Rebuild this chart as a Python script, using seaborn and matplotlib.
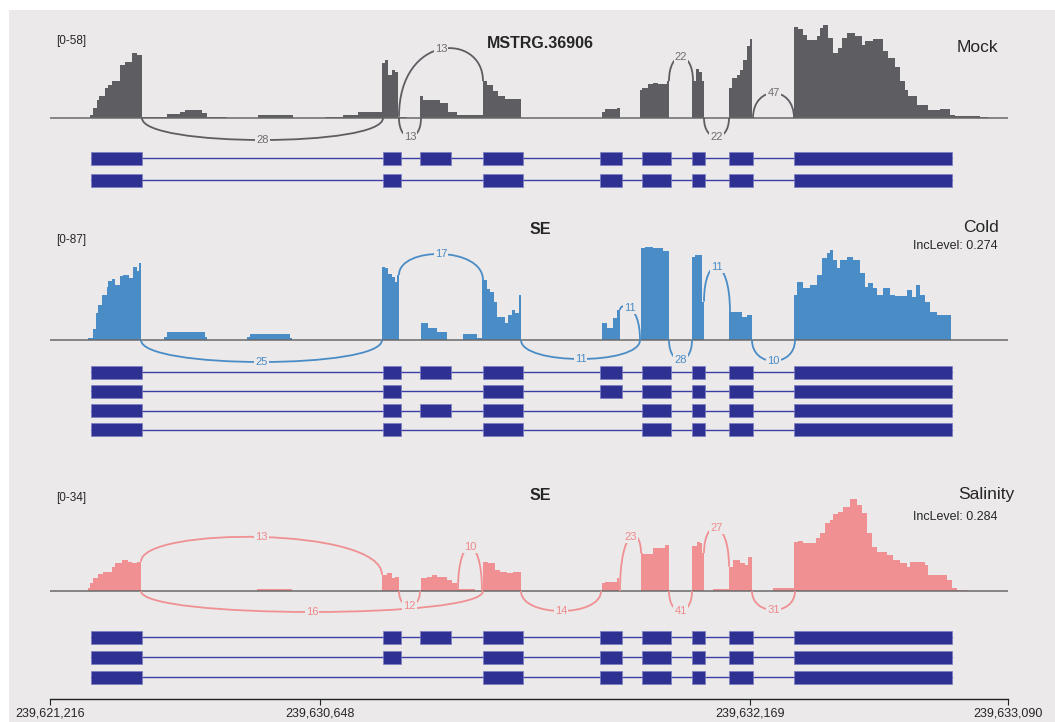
import numpy as np
import matplotlib
matplotlib.use("Agg")
import matplotlib.pyplot as plt
from matplotlib.path import Path
from matplotlib.patches import PathPatch, Rectangle
import seaborn as sns

sns.set_theme(style="white")
plt.rcParams["font.family"] = ["Liberation Sans", "DejaVu Sans"]

W, H = 1055, 722
BG = "#ebe9ea"
EXON = "#2e3192"

# --- gene model (x = compressed genomic coordinate, introns shrunk) ---
exon_start = [91, 383, 420, 483, 600, 642, 692, 729, 794]
exon_end = [142, 401, 451, 523, 622, 671, 705, 753, 952]

mock_tx = [[0, 1, 2, 3, 4, 5, 6, 7, 8], [0, 1, 3, 4, 5, 6, 7, 8]]
cold_tx = [[0, 1, 2, 3, 4, 5, 6, 7, 8], [0, 1, 3, 4, 5, 6, 7, 8],
           [0, 1, 2, 3, 5, 6, 7, 8], [0, 1, 3, 5, 6, 7, 8]]
sal_tx = [[0, 1, 2, 3, 4, 5, 6, 7, 8], [0, 1, 3, 4, 5, 6, 7, 8],
          [0, 3, 4, 5, 6, 7, 8]]

# --- read coverage: start position, then (bin end, depth) ---
mock_start = 90
mock_cov = [(93.3, 2), (96.7, 6), (99.3, 11.4), (105, 14), (108.3, 18.7), (111.7, 20.8),
            (120, 23.3), (125, 33), (131.7, 34.7), (136.7, 40.6), (141.7, 39),
            (166.7, 0.8), (180, 2.7), (185, 4), (201.7, 5.2), (206.7, 3), (226.7, 0.8),
            (258.3, 0), (293.3, 1.7), (325, 0), (343.3, 0.8), (358.3, 1.7), (381.7, 3.7),
            (385, 34), (388.3, 36), (391.7, 27), (395, 30), (398.3, 29), (406.7, 0.8), (420, 0),
            (423.3, 13.5), (440, 11.4), (448.3, 9.4), (456.7, 4), (482.7, 1.7),
            (486.7, 23), (493.3, 20.8), (498.3, 16.6), (505, 13.5), (521, 11.9), (601.7, 0),
            (605, 4), (616.7, 5.5), (620, 6), (640, 0),
            (641.7, 17.7), (648.3, 18.7), (653.3, 21.4), (658.3, 22), (666.7, 21.4), (669.3, 23),
            (692.3, 0), (695.7, 23), (699.3, 30.6), (701.7, 29), (704, 23), (729, 0),
            (731.7, 18.7), (736.7, 25), (740, 27), (743.3, 30), (746.7, 36), (750, 44.7),
            (752.3, 49), (794.3, 0),
            (798.3, 57), (803.3, 55.5), (806.7, 52), (816.7, 48.5), (820, 51), (823.3, 56),
            (828.3, 58), (833.3, 50), (838.3, 40.5), (841.7, 43.7), (846.7, 50), (855, 53),
            (861.7, 51), (865, 45.8), (873.3, 47.8), (883.3, 49), (888.3, 41.6), (895, 37.4),
            (900, 32), (905, 23), (908.3, 17.7), (916.7, 13.5), (928.3, 8.3), (940, 4.8),
            (950, 5.6), (955, 2), (980, 1.5), (988.3, 0.8)]

cold_start = 88.3
cold_cov = [(93.3, 2), (95.7, 10), (98.3, 25), (101.7, 33), (106.7, 42), (108.3, 50),
            (111.7, 55), (115, 57), (120, 51), (123.3, 60), (129.3, 61), (132.7, 58),
            (136.7, 68), (139, 65), (141, 72),
            (164, 0), (166.7, 3), (205, 7.8), (206.7, 3), (246.7, 0), (250, 3), (290, 5.3),
            (291.7, 2), (381.7, 0),
            (385, 68.6), (388.3, 67), (391.7, 62), (395, 59), (397.3, 54.6), (399, 60.8),
            (420.7, 0), (428.3, 15.6), (436.7, 10.9), (446.7, 7.8), (463.3, 0), (476.7, 5.3),
            (482.3, 2.2),
            (486.7, 56), (490, 48), (494, 45), (497.3, 36), (505, 21.8), (508.3, 15.6),
            (511.7, 23.4), (515, 28), (519.3, 25), (520.7, 42), (601.7, 0),
            (606.7, 15.6), (613.3, 11.5), (617.3, 20.3), (620, 28), (641, 0),
            (645, 85.7), (653.3, 87), (663.3, 85.7), (669.3, 83.2), (692.3, 0),
            (695, 78), (701.7, 79.5), (704, 35.9), (729.3, 0),
            (733.3, 25.9), (741.7, 26.5), (746.7, 21.8), (752, 23.4), (794.3, 0),
            (796.7, 42), (803.3, 54.6), (810, 49), (816.7, 51.4), (821.7, 60.8), (826.7, 76.4),
            (830, 81), (833.3, 84.2), (836.7, 74.8), (840, 67), (846.7, 74.8), (853.3, 78),
            (860, 74.8), (865, 62.4), (868.3, 49.9), (873.3, 53), (876.7, 48.3), (883.3, 42),
            (890, 48.3), (895, 42), (906.7, 41.5), (911.7, 46.8), (916, 40.5), (920, 51.4),
            (925, 42), (930, 35.9), (936.7, 25.9), (951, 23.4)]

sal_start = 87.7
sal_cov = [(90, 1), (93.3, 2.8), (98.3, 4.6), (103.3, 6.1), (111.7, 7.1), (115, 8.9),
           (121.7, 10.1), (128.3, 11.3), (131.7, 10.7), (136.7, 10.1), (141, 10.7),
           (256.7, 0), (292.3, 0.6), (382.3, 0),
           (386.7, 5.9), (391.7, 6.5), (395, 4.6), (399, 5.2), (420.7, 0),
           (426.7, 4.9), (431.7, 5.2), (436.7, 5.9), (441.7, 5), (446.7, 5.2), (451.7, 4),
           (457.3, 3), (475, 0.6), (482.7, 0),
           (488.3, 10.7), (495, 10.4), (500, 7.7), (506.7, 7.1), (513.3, 6.7), (521, 7),
           (601.7, 0), (605, 2.8), (616.7, 3.4), (619.3, 4.6), (640.7, 0),
           (643.3, 13.8), (653.3, 13.5), (660, 15.6), (665, 15.8), (669.3, 16.8), (692.3, 0),
           (696.7, 16.5), (700, 18), (702.3, 17.4), (704, 13.8), (713.3, 0), (729.3, 0.6),
           (733.3, 8.9), (740, 11.3), (745, 10.1), (748.3, 9.5), (752, 12.6), (773.3, 0),
           (794.3, 1),
           (798.3, 18), (803.3, 18.3), (816, 17.4), (820, 19.3), (825, 21.1), (830, 24.7),
           (833.3, 26), (838.3, 28), (843.3, 29), (850, 30.8), (856.7, 33.6), (861.7, 31.4),
           (866.7, 28.4), (871.7, 21.1), (876.7, 16.2), (886.7, 14.4), (893.3, 13.2),
           (900, 11.3), (906.7, 10.1), (910, 8.7), (925, 10.7), (928.3, 9.5), (946.7, 5.9),
           (951.7, 4), (956.7, 1), (966.7, 0.2)]

# --- splice junctions: (donor, acceptor, read count) ---
mock_junc = [(142, 383, 28), (399, 483, 13), (399, 421, 13), (669, 693, 22),
             (704, 729, 22), (753, 794, 47)]
cold_junc = [(141, 382, 25), (399, 483, 17), (521, 640, 11), (620, 640, 11),
             (669, 692, 28), (704, 730, 11), (752, 795, 10)]
sal_junc = [(141, 382, 13), (141, 483, 16), (399, 420, 12), (458, 482, 10),
            (521, 601, 14), (620, 641, 23), (669, 692, 41), (704, 729, 27), (752, 795, 31)]

# arc heights in pixels above (+) / below (-) the baseline (layout only)
mock_arc_h = [-22, 69, -19, 61, -19, 25]
cold_arc_h = [-22, 86, -19, 32, -20, 73, -21]
sal_arc_h = [54, -21, -15, 44, -20, 54, -20, 63, -19]

tick_pos = [50, 320, 750, 1008]
tick_labels = ["239,621,216", "239,630,648", "239,632,169", "239,633,090"]

samples = [
    dict(name="Mock", title="MSTRG.36906", rng="[0-58]", ymax=58, inc=None,
         start=mock_start, cov=mock_cov, junc=mock_junc, arc_h=mock_arc_h, tx=mock_tx,
         color="#5e5d61", lab="#6e6e6e", base=118, rows=(158, 22), name_x=957,
         rng_y=41, title_y=43, name_y=48, inc_y=None),
    dict(name="Cold", title="SE", rng="[0-87]", ymax=87, inc="IncLevel: 0.274",
         start=cold_start, cov=cold_cov, junc=cold_junc, arc_h=cold_arc_h, tx=cold_tx,
         color="#4a8cc6", lab="#4a8cc6", base=340, rows=(372, 19.3), name_x=963,
         rng_y=240, title_y=229, name_y=227, inc_y=246),
    dict(name="Salinity", title="SE", rng="[0-34]", ymax=34, inc="IncLevel: 0.284",
         start=sal_start, cov=sal_cov, junc=sal_junc, arc_h=sal_arc_h, tx=sal_tx,
         color="#f09092", lab="#f08a8c", base=591, rows=(637, 20), name_x=958,
         rng_y=498, title_y=495, name_y=495, inc_y=517),
]


def fbox(x0, y0, x1, y1):
    return [x0 / W, 1 - y1 / H, (x1 - x0) / W, (y1 - y0) / H]


fig = plt.figure(figsize=(W / 100, H / 100), dpi=100, facecolor="white")
fig.patches.append(Rectangle((9 / W, 0), 1 - 9 / W, 1 - 10 / H, transform=fig.transFigure,
                             facecolor=BG, edgecolor="none", zorder=-10))

for s in samples:
    base = s["base"]
    upp = s["ymax"] / 93.0  # depth units per pixel
    top_px, bot_px = base - 110, base + 30
    ax = fig.add_axes(fbox(0, top_px, W, bot_px))
    ax.set_facecolor("none")
    ax.set_xlim(0, W)
    ax.set_ylim(-(bot_px - base) * upp, (base - top_px) * upp)
    ax.axis("off")

    edges = np.array([s["start"]] + [e for e, v in s["cov"]])
    vals = np.array([v for e, v in s["cov"]])
    ax.stairs(vals, edges, fill=True, color=s["color"], lw=0, zorder=2)
    ax.hlines(0, 50, 1008, color="#6a6a6a", lw=1.1, zorder=3)

    def depth_at(x):
        i = np.searchsorted(edges, x) - 1
        return vals[i] if 0 <= i < len(vals) else 0

    for (x0, x1, n), hp in zip(s["junc"], s["arc_h"]):
        apex = hp * upp
        if apex > 0:
            y0, y1 = depth_at(x0 - 0.5), depth_at(x1 + 0.5)
            y0 = y0 if y0 < apex else 0
            y1 = y1 if y1 < apex else 0
        else:
            y0 = y1 = 0
        c = (apex - (y0 + y1) / 8) / 0.75
        path = Path([(x0, y0), (x0, c), (x1, c), (x1, y1)],
                    [Path.MOVETO, Path.CURVE4, Path.CURVE4, Path.CURVE4])
        ax.add_patch(PathPatch(path, facecolor="none", edgecolor=s["color"], lw=1.3, zorder=4))
        ax.text((x0 + x1) / 2, apex, str(n), ha="center", va="center", fontsize=8,
                color=s["lab"], zorder=5,
                bbox=dict(facecolor=BG, edgecolor="none", pad=0.8))

    # transcript models
    row0, sp = s["rows"]
    n = len(s["tx"])
    axt = fig.add_axes(fbox(0, row0 - sp / 2, W, row0 + (n - 0.5) * sp))
    axt.set_facecolor("none")
    axt.set_xlim(0, W)
    axt.set_ylim(n - 0.5, -0.5)
    axt.axis("off")
    hh = 6.5 / sp
    for i, tx in enumerate(s["tx"]):
        axt.plot([exon_start[tx[0]], exon_end[tx[-1]]], [i, i], color="#3a3ea6", lw=1, zorder=1)
        axt.broken_barh([(exon_start[k], exon_end[k] - exon_start[k]) for k in tx],
                        (i - hh, 2 * hh), facecolors=EXON, edgecolor="#7b7dc2", lw=0.5,
                        zorder=2)

    # labels
    fig.text(56 / W, 1 - s["rng_y"] / H, s["rng"], fontsize=8.5, ha="left", va="center")
    fig.text(540 / W, 1 - s["title_y"] / H, s["title"], fontsize=11.5, fontweight="bold",
             ha="center", va="center")
    fig.text(s["name_x"] / W, 1 - s["name_y"] / H, s["name"], fontsize=12.5,
             ha="left", va="center")
    if s["inc"]:
        fig.text(913 / W, 1 - s["inc_y"] / H, s["inc"], fontsize=9, ha="left", va="center")

# genomic axis
axg = fig.add_axes(fbox(0, 680, W, 699))
axg.set_facecolor("none")
axg.set_xlim(0, W)
axg.set_yticks([])
sns.despine(ax=axg, left=True, top=True, right=True)
axg.spines["bottom"].set_bounds(50, 1008)
axg.spines["bottom"].set_color("#222222")
axg.spines["bottom"].set_linewidth(1)
axg.set_xticks(tick_pos)
axg.set_xticklabels(tick_labels, fontsize=9)
axg.tick_params(axis="x", direction="out", length=4, width=0.8, color="#222222", pad=2,
                bottom=True)

fig.savefig("out.png", dpi=100, facecolor=fig.get_facecolor())
